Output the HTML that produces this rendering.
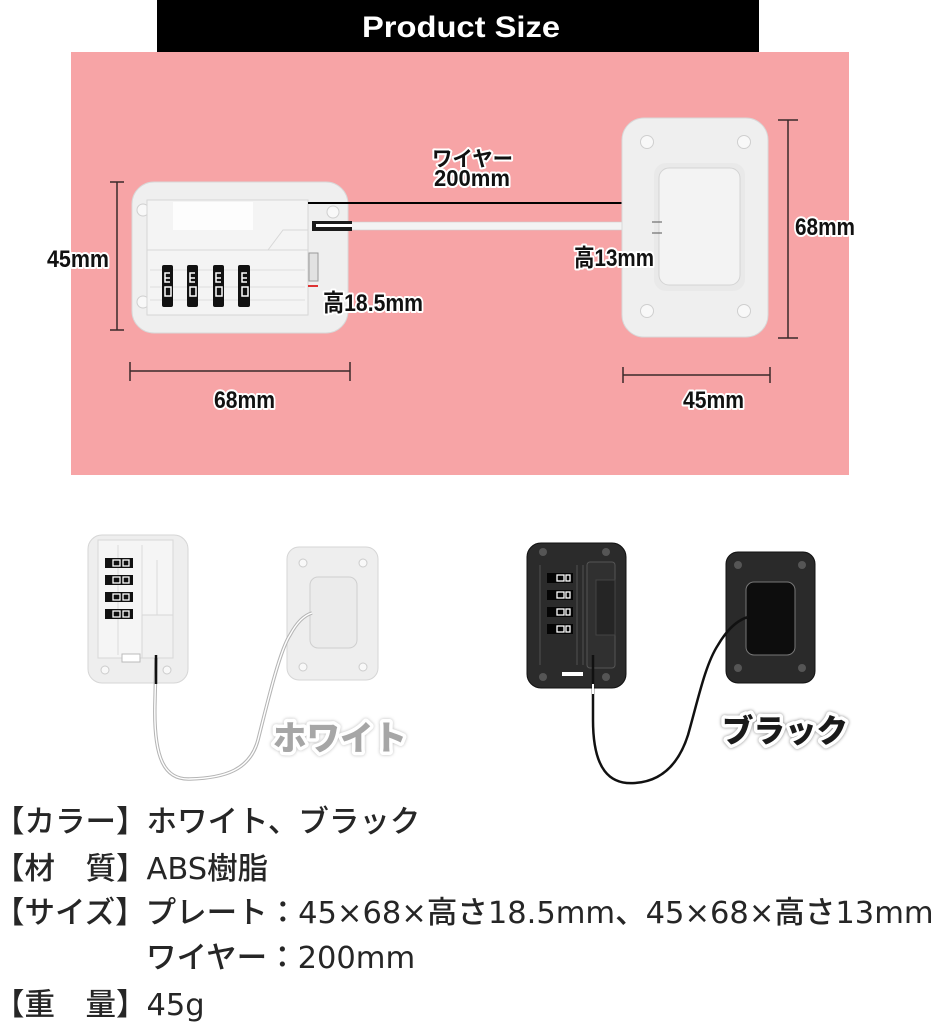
<!DOCTYPE html>
<html><head><meta charset="utf-8"><style>
html,body{margin:0;padding:0;background:#fff;}
body{width:940px;height:1028px;position:relative;overflow:hidden;}
svg{position:absolute;left:0;top:0;}
.t{position:absolute;white-space:nowrap;font-family:"DejaVu Sans","Noto Sans CJK JP",sans-serif;font-size:30.5px;line-height:40px;color:#262626;font-weight:500;}
.lbl{font-family:"Liberation Sans","Noto Sans CJK JP",sans-serif;font-weight:bold;fill:#111;stroke:#fff;stroke-width:4;paint-order:stroke;stroke-linejoin:round;}
</style></head><body>
<svg width="940" height="1028" viewBox="0 0 940 1028">
<!-- header -->
<rect x="157" y="0" width="602" height="52" fill="#000"/>
<text x="362" y="37" font-family="Liberation Sans" font-weight="bold" font-size="30" fill="#fff" textLength="198" lengthAdjust="spacingAndGlyphs">Product Size</text>
<!-- pink -->
<rect x="71" y="52" width="778" height="423" fill="#f7a4a6"/>

<!-- left lock top -->
<rect x="132" y="182" width="216" height="151" rx="22" fill="#efefef" stroke="#d8d8d8"/>
<circle cx="143" cy="210" r="6" fill="#f8f8f8" stroke="#cfcfcf"/>
<circle cx="143" cy="302" r="6" fill="#f8f8f8" stroke="#cfcfcf"/>
<circle cx="333" cy="212" r="6" fill="#f8f8f8" stroke="#cfcfcf"/>
<rect x="147" y="200" width="161" height="115" fill="#f4f4f4" stroke="#d6d6d6"/>
<rect x="173" y="202" width="80" height="28" fill="#fdfdfd"/>
<path d="M147,250 L308,250" stroke="#d8d8d8"/>
<path d="M268,250 L283,230 L308,230" stroke="#d8d8d8" fill="none"/>
<path d="M150,270 L305,270 M150,287 L305,287 M150,300 L305,300" stroke="#dedede"/>
<rect x="309" y="253" width="9" height="28" fill="#e2e2e2" stroke="#999"/>
<rect x="308" y="285" width="10" height="2" fill="#d33"/>
<g fill="#111">
<rect x="162" y="265" width="11" height="42" rx="2"/>
<rect x="187" y="265" width="11" height="42" rx="2"/>
<rect x="213" y="265" width="11" height="42" rx="2"/>
<rect x="238" y="265" width="12" height="42" rx="2"/>
</g>
<g fill="none" stroke="#fff" stroke-width="1.5">
<path d="M170,273 L165,273 L165,282 L170,282 M165,278 L170,278"/>
<rect x="165" y="287" width="6" height="9"/>
<path d="M195,273 L190,273 L190,282 L195,282 M190,278 L195,278"/>
<rect x="190" y="287" width="6" height="9"/>
<path d="M221,273 L216,273 L216,282 L221,282 M216,278 L221,278"/>
<rect x="216" y="287" width="6" height="9"/>
<path d="M247,273 L242,273 L242,282 L247,282 M242,278 L247,278"/>
<rect x="242" y="287" width="6" height="9"/>
</g>
<!-- wire top -->
<line x1="308" y1="203" x2="658" y2="203" stroke="#000" stroke-width="2"/>
<rect x="318" y="222" width="342" height="8" fill="#f3f3f3" stroke="#cfcfcf" stroke-width="0.6"/>
<rect x="312" y="221" width="40" height="10" fill="#1a1a1a"/>
<rect x="316" y="224" width="36" height="3" fill="#fff"/>

<!-- right plate top -->
<rect x="622" y="118" width="146" height="219" rx="22" fill="#efefef" stroke="#d8d8d8"/>
<circle cx="647" cy="142" r="6.5" fill="#f8f8f8" stroke="#cfcfcf"/>
<circle cx="744" cy="142" r="6.5" fill="#f8f8f8" stroke="#cfcfcf"/>
<circle cx="647" cy="311" r="6.5" fill="#f8f8f8" stroke="#cfcfcf"/>
<circle cx="744" cy="311" r="6.5" fill="#f8f8f8" stroke="#cfcfcf"/>
<rect x="654" y="163" width="91" height="128" rx="12" fill="#e9e9e9"/>
<rect x="659" y="168" width="81" height="117" rx="10" fill="#f3f3f3" stroke="#d4d4d4"/>
<path d="M652,222 L662,222 M652,233 L662,233" stroke="#555" stroke-width="1"/>

<!-- dimension lines -->
<g stroke="#3a2a2a" stroke-width="1.5">
<line x1="117" y1="182" x2="117" y2="330"/><line x1="110" y1="182" x2="124" y2="182"/><line x1="110" y1="330" x2="124" y2="330"/>
<line x1="788" y1="120" x2="788" y2="338"/><line x1="778" y1="120" x2="798" y2="120"/><line x1="778" y1="338" x2="798" y2="338"/>
<line x1="130" y1="371" x2="350" y2="371"/><line x1="130" y1="362" x2="130" y2="381"/><line x1="350" y1="362" x2="350" y2="381"/>
<line x1="623" y1="375" x2="770" y2="375"/><line x1="623" y1="367" x2="623" y2="383"/><line x1="770" y1="367" x2="770" y2="383"/>
</g>
<!-- labels top -->
<text class="lbl" x="432" y="166" font-size="21" textLength="81" lengthAdjust="spacingAndGlyphs">ワイヤー</text>
<text class="lbl" x="434" y="186" font-size="23" textLength="76" lengthAdjust="spacingAndGlyphs">200mm</text>
<text class="lbl" x="47" y="267" font-size="24" textLength="62" lengthAdjust="spacingAndGlyphs">45mm</text>
<text class="lbl" x="323" y="311" font-size="24" textLength="100" lengthAdjust="spacingAndGlyphs">高18.5mm</text>
<text class="lbl" x="574" y="266" font-size="24" textLength="80" lengthAdjust="spacingAndGlyphs">高13mm</text>
<text class="lbl" x="795" y="235" font-size="24" textLength="60" lengthAdjust="spacingAndGlyphs">68mm</text>
<text class="lbl" x="214" y="408" font-size="24" textLength="61" lengthAdjust="spacingAndGlyphs">68mm</text>
<text class="lbl" x="683" y="408" font-size="24" textLength="61" lengthAdjust="spacingAndGlyphs">45mm</text>

<!-- white product -->
<rect x="88" y="535" width="100" height="148" rx="14" fill="#eeeeee" stroke="#d6d6d6"/>
<circle cx="105" cy="545" r="4" fill="#f8f8f8" stroke="#ccc"/>
<circle cx="167" cy="545" r="4" fill="#f8f8f8" stroke="#ccc"/>
<circle cx="105" cy="670" r="4" fill="#f8f8f8" stroke="#ccc"/>
<circle cx="167" cy="670" r="4" fill="#f8f8f8" stroke="#ccc"/>
<rect x="98" y="540" width="75" height="118" fill="#f5f5f5" stroke="#d8d8d8"/>
<path d="M118,545 L118,655 M142,545 L142,655 M157,560 L157,615" stroke="#dcdcdc"/>
<rect x="142" y="615" width="31" height="43" fill="#f1f1f1" stroke="#d8d8d8"/>
<g fill="#111">
<rect x="105" y="558" width="28" height="10"/><rect x="105" y="575" width="28" height="10"/>
<rect x="105" y="592" width="28" height="10"/><rect x="105" y="609" width="28" height="10"/>
</g>
<g fill="none" stroke="#fff" stroke-width="1.3">
<rect x="113" y="560" width="7" height="6"/><rect x="123" y="560" width="6" height="6"/>
<rect x="113" y="577" width="7" height="6"/><rect x="123" y="577" width="6" height="6"/>
<rect x="113" y="594" width="7" height="6"/><rect x="123" y="594" width="6" height="6"/>
<rect x="113" y="611" width="7" height="6"/><rect x="123" y="611" width="6" height="6"/>
</g>
<rect x="122" y="654" width="18" height="8" fill="#fff" stroke="#bbb"/>
<rect x="287" y="547" width="91" height="133" rx="12" fill="#eeeeee" stroke="#d6d6d6"/>
<circle cx="303" cy="563" r="4" fill="#f8f8f8" stroke="#ccc"/>
<circle cx="363" cy="563" r="4" fill="#f8f8f8" stroke="#ccc"/>
<circle cx="303" cy="667" r="4" fill="#f8f8f8" stroke="#ccc"/>
<circle cx="363" cy="667" r="4" fill="#f8f8f8" stroke="#ccc"/>
<rect x="310" y="577" width="47" height="71" rx="8" fill="#ebebeb" stroke="#cfcfcf"/>
<path d="M156,658 L155,700 C153,760 165,780 190,779 C225,778 250,770 258,740 C268,700 280,650 290,635 C297,622 305,615 312,613" fill="none" stroke="#b5b5b5" stroke-width="3.5"/>
<path d="M156,658 L155,700 C153,760 165,780 190,779 C225,778 250,770 258,740 C268,700 280,650 290,635 C297,622 305,615 312,613" fill="none" stroke="#fff" stroke-width="1.4"/>
<line x1="156" y1="655" x2="156" y2="684" stroke="#111" stroke-width="2.5"/>
<text x="273" y="750" font-family="Noto Sans CJK JP, sans-serif" font-weight="900" font-size="34" fill="#a6a6a6" stroke="#fff" stroke-width="7" paint-order="stroke" stroke-linejoin="round" textLength="134" lengthAdjust="spacingAndGlyphs" style="filter:drop-shadow(0 0 1.5px #bbb)">ホワイト</text>

<!-- black product -->
<rect x="527" y="543" width="99" height="145" rx="14" fill="#2b2b2b" stroke="#111"/>
<circle cx="543" cy="552" r="4" fill="#555"/>
<circle cx="606" cy="552" r="4" fill="#555"/>
<circle cx="543" cy="677" r="4" fill="#555"/>
<circle cx="606" cy="677" r="4" fill="#555"/>
<path d="M540,565 L540,665 M577,565 L577,665 M583,565 L583,665" stroke="#444" stroke-width="1.5"/>
<rect x="587" y="562" width="28" height="106" rx="3" fill="#303030" stroke="#555"/>
<rect x="596" y="580" width="19" height="55" fill="#252525" stroke="#444"/>
<g fill="#050505">
<rect x="547" y="573" width="26" height="10"/><rect x="547" y="590" width="26" height="10"/>
<rect x="547" y="607" width="26" height="10"/><rect x="547" y="624" width="26" height="10"/>
</g>
<g fill="none" stroke="#fff" stroke-width="1.3">
<rect x="557" y="575" width="7" height="6"/><rect x="566" y="575" width="4" height="6"/>
<rect x="557" y="592" width="7" height="6"/><rect x="566" y="592" width="4" height="6"/>
<rect x="557" y="609" width="7" height="6"/><rect x="566" y="609" width="4" height="6"/>
<rect x="557" y="626" width="7" height="6"/><rect x="566" y="626" width="4" height="6"/>
</g>
<rect x="562" y="672" width="21" height="4" fill="#fff"/>
<rect x="726" y="552" width="89" height="131" rx="12" fill="#2a2a2a" stroke="#111"/>
<circle cx="738" cy="565" r="4" fill="#555"/>
<circle cx="802" cy="565" r="4" fill="#555"/>
<circle cx="738" cy="668" r="4" fill="#555"/>
<circle cx="802" cy="668" r="4" fill="#555"/>
<rect x="746" y="582" width="49" height="73" rx="8" fill="#0d0d0d" stroke="#777"/>
<path d="M593,655 L593,720 C593,770 610,785 635,783 C665,781 680,760 688,735 C698,700 705,665 718,645 C728,628 738,620 748,617" fill="none" stroke="#111" stroke-width="2.5"/>
<line x1="593" y1="684" x2="593" y2="694" stroke="#fff" stroke-width="2"/>
<text x="722" y="742" font-family="Noto Sans CJK JP, sans-serif" font-weight="900" font-size="32" fill="#1a1a1a" stroke="#fff" stroke-width="7" paint-order="stroke" stroke-linejoin="round" textLength="126" lengthAdjust="spacingAndGlyphs" style="filter:drop-shadow(0 0 1.5px #888)">ブラック</text>
</svg>

<div class="t" style="left:-6px;top:803px;">【カラー】ホワイト、ブラック</div>
<div class="t" style="left:-6px;top:850px;">【材　質】ABS樹脂</div>
<div class="t" style="left:-6px;top:894px;">【サイズ】プレート：45×68×高さ18.5mm、45×68×高さ13mm</div>
<div class="t" style="left:146px;top:939px;">ワイヤー：200mm</div>
<div class="t" style="left:-6px;top:986px;">【重　量】45g</div>
</body></html>
